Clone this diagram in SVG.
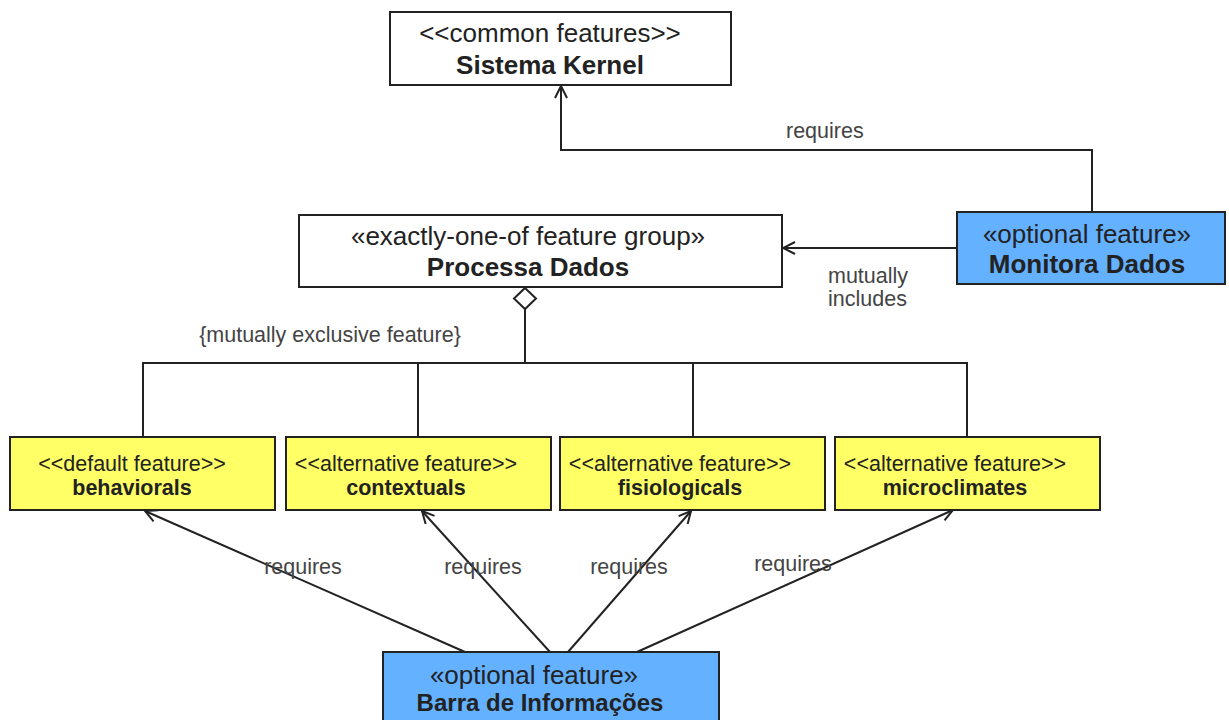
<svg xmlns="http://www.w3.org/2000/svg" width="1229" height="720" viewBox="0 0 1229 720">
  <style>
    text { font-family: "Liberation Sans", Arial, sans-serif; fill: #222; }
    .box { stroke: #222; stroke-width: 2; }
    .plain { fill: #ffffff; }
    .opt { fill: #64b1ff; }
    .feat { fill: #ffff66; }
    .st-lg { font-size: 26px; }
    .nm-lg { font-size: 26px; font-weight: bold; }
    .st-sm { font-size: 21.5px; }
    .nm-sm { font-size: 21.5px; font-weight: bold; }
    .lbl { font-size: 21.5px; fill: #444; }
    .edge { fill: none; stroke: #222; stroke-width: 2; }
  </style>
  <defs>
    <marker id="open-arrow" viewBox="0 0 14 14" refX="13" refY="7" markerWidth="14" markerHeight="14" markerUnits="userSpaceOnUse" orient="auto">
      <path d="M1,1 L13,7 L1,13" fill="none" stroke="#222" stroke-width="2"/>
    </marker>
  </defs>

  <rect width="1229" height="720" fill="#ffffff"/>

  <!-- connectors -->
  <g id="connectors">
    <!-- Monitora Dados requires Sistema Kernel -->
    <polyline class="edge" points="1092,212 1092,150 561,150 561,86" marker-end="url(#open-arrow)"/>
    <text class="lbl" x="786" y="138">requires</text>
    <!-- Monitora Dados mutually includes Processa Dados -->
    <line class="edge" x1="957" y1="248" x2="783" y2="248" marker-end="url(#open-arrow)"/>
    <text class="lbl" x="828" y="283">mutually</text>
    <text class="lbl" x="828" y="306">includes</text>
    <!-- feature group aggregation -->
    <polygon points="525,288 536,298.5 525,309 514,298.5" fill="#ffffff" stroke="#222" stroke-width="2"/>
    <polyline class="edge" points="525,309 525,363"/>
    <polyline class="edge" points="143,437 143,363 967,363 967,437"/>
    <line class="edge" x1="418" y1="363" x2="418" y2="437"/>
    <line class="edge" x1="693" y1="363" x2="693" y2="437"/>
    <text class="lbl" x="330" y="342" text-anchor="middle">{mutually exclusive feature}</text>
    <!-- Barra de Informações requires each alternative -->
    <line class="edge" x1="465" y1="652" x2="145" y2="511" marker-end="url(#open-arrow)"/>
    <line class="edge" x1="550" y1="652" x2="422" y2="511" marker-end="url(#open-arrow)"/>
    <line class="edge" x1="568" y1="652" x2="691" y2="511" marker-end="url(#open-arrow)"/>
    <line class="edge" x1="637" y1="652" x2="953" y2="510" marker-end="url(#open-arrow)"/>
    <text class="lbl" x="303" y="574" text-anchor="middle">requires</text>
    <text class="lbl" x="483" y="574" text-anchor="middle">requires</text>
    <text class="lbl" x="629" y="574" text-anchor="middle">requires</text>
    <text class="lbl" x="793" y="571" text-anchor="middle">requires</text>
  </g>

  <!-- nodes -->
  <g id="sistema-kernel">
    <rect class="box plain" x="390" y="12" width="341" height="73"/>
    <text class="st-lg" x="550" y="42" text-anchor="middle">&lt;&lt;common features&gt;&gt;</text>
    <text class="nm-lg" x="550" y="74" text-anchor="middle">Sistema Kernel</text>
  </g>

  <g id="processa-dados">
    <rect class="box plain" x="299" y="215" width="483" height="72"/>
    <text class="st-lg" x="528" y="245" text-anchor="middle">«exactly-one-of feature group»</text>
    <text class="nm-lg" x="528" y="276" text-anchor="middle">Processa Dados</text>
  </g>

  <g id="monitora-dados">
    <rect class="box opt" x="957" y="212" width="268" height="72"/>
    <text class="st-lg" x="1087" y="243" text-anchor="middle">«optional feature»</text>
    <text class="nm-lg" x="1087" y="273" text-anchor="middle">Monitora Dados</text>
  </g>

  <g id="behaviorals">
    <rect class="box feat" x="10" y="437" width="265" height="73"/>
    <text class="st-sm" x="132" y="471" text-anchor="middle">&lt;&lt;default feature&gt;&gt;</text>
    <text class="nm-sm" x="132" y="495" text-anchor="middle">behaviorals</text>
  </g>

  <g id="contextuals">
    <rect class="box feat" x="286" y="437" width="265" height="73"/>
    <text class="st-sm" x="406" y="471" text-anchor="middle">&lt;&lt;alternative feature&gt;&gt;</text>
    <text class="nm-sm" x="406" y="495" text-anchor="middle">contextuals</text>
  </g>

  <g id="fisiologicals">
    <rect class="box feat" x="560" y="437" width="265" height="73"/>
    <text class="st-sm" x="680" y="471" text-anchor="middle">&lt;&lt;alternative feature&gt;&gt;</text>
    <text class="nm-sm" x="680" y="495" text-anchor="middle">fisiologicals</text>
  </g>

  <g id="microclimates">
    <rect class="box feat" x="835" y="437" width="265" height="73"/>
    <text class="st-sm" x="955" y="471" text-anchor="middle">&lt;&lt;alternative feature&gt;&gt;</text>
    <text class="nm-sm" x="955" y="495" text-anchor="middle">microclimates</text>
  </g>

  <g id="barra-de-informacoes">
    <rect class="box opt" x="383" y="652" width="336" height="74"/>
    <text class="st-lg" x="534" y="684" text-anchor="middle">«optional feature»</text>
    <text class="nm-sm" x="540" y="711" text-anchor="middle" style="font-size:24px">Barra de Informações</text>
  </g>
</svg>
